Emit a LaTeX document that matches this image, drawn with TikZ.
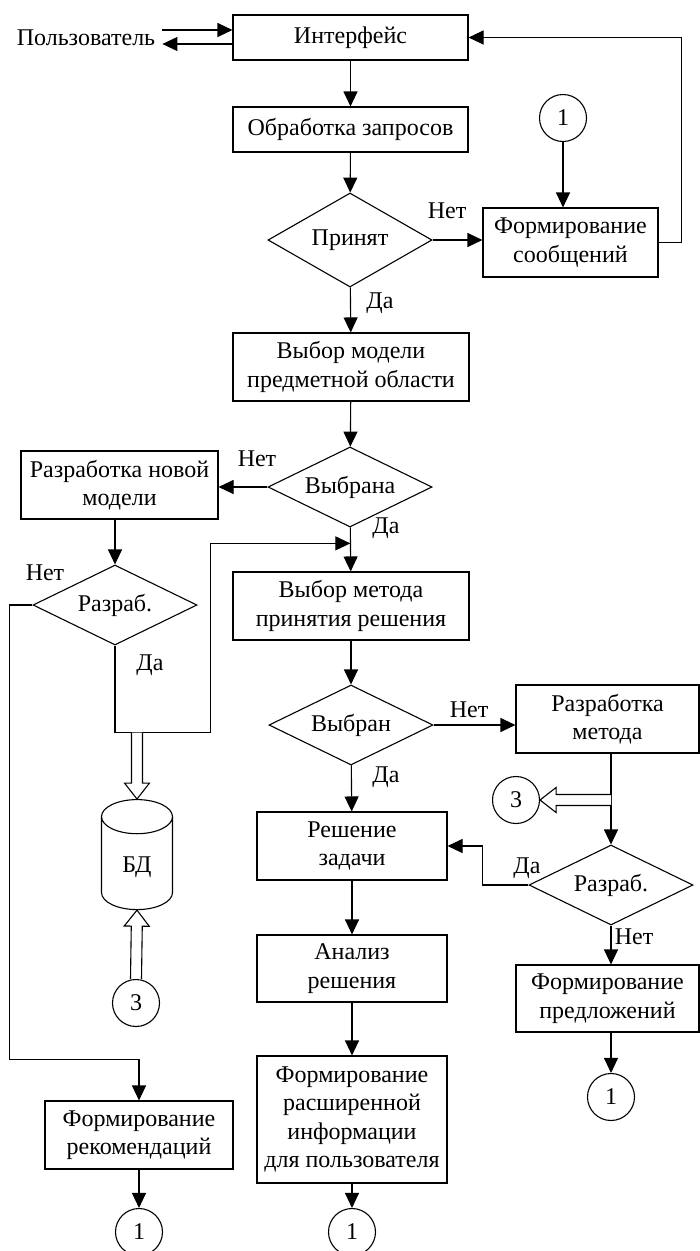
\documentclass[tikz,border=0pt]{standalone}
\usepackage{fontspec}
\setmainfont{Liberation Serif}
\usetikzlibrary{arrows.meta,positioning,calc,shapes.geometric,shapes.symbols}

% open (hollow) arrow from #1 to #2
\newcommand{\fatarrow}[2]{%
  \draw[fat] let \p1=(#1), \p2=(#2),
    \n1={atan2(\y2-\y1,\x2-\x1)}, \n2={veclen(\x2-\x1,\y2-\y1)} in
    [shift={(\p2)}, rotate=\n1]
    (-\n2,-5.5pt) -- (-16pt,-5.5pt) -- (-16pt,-12.5pt) -- (0pt,0pt)
    -- (-16pt,12.5pt) -- (-16pt,5.5pt) -- (-\n2,5.5pt);}

\begin{document}
\begin{tikzpicture}[x=1pt,y=-1pt,
  every node/.style={font=\fontsize{24}{28.5}\selectfont},
  block/.style={draw, line width=1.1pt, align=center, inner sep=2pt},
  decide/.style={draw, diamond, aspect=2, line width=1.1pt, inner sep=0pt, minimum width=164pt, minimum height=80pt},
  conn/.style={draw, circle, line width=1.1pt, minimum size=47pt, inner sep=0pt},
  arr/.style={line width=1.1pt, -{Triangle[length=15pt,width=14pt]}},
  fat/.style={line width=1.1pt, fill=white},
  lbl/.style={inner sep=0pt}]
  \useasboundingbox (0,0) rectangle (700,1251);

  % Interface and requests
  \node[lbl, inner xsep=7pt] (user) at (86,38) {Пользователь};
  \node[block, minimum width=235pt, minimum height=45pt] (iface) at (350.5,37.5) {Интерфейс};
  \node[block, minimum width=235pt, minimum height=45pt] (proc) at (350.5,129.5) {Обработка запросов};
  \node[decide, minimum height=94pt] (acc) at (350,240) {Принят};
  \node[block, minimum width=175pt, minimum height=69pt] (msg) at (570.5,242.5) {Формирование\\сообщений};
  \node[conn] (c1a) at (563,118) {1};

  % Domain model
  \node[block, minimum width=236pt, minimum height=68pt] (model) at (351,367) {Выбор модели\\предметной области};
  \node[decide] (msel) at (350,487) {Выбрана};
  \node[block, minimum width=197pt, minimum height=68pt] (newmod) at (119.5,485) {Разработка новой\\модели};
  \node[decide] (mdev) at (115,605) {Разраб.};
  \node[draw, line width=1.1pt, cylinder, shape border rotate=90, aspect=0.95, minimum width=71pt, minimum height=110pt] (db) at (137,867) {БД};
  \node[conn] (c3a) at (136,1003) {3};
  \node[block, minimum width=188pt, minimum height=68pt] (recom) at (139,1135) {Формирование\\рекомендаций};
  \node[conn] (c1b) at (139,1232) {1};

  % Decision method
  \node[block, minimum width=236pt, minimum height=68pt] (meth) at (351,606) {Выбор метода\\принятия решения};
  \node[decide] (methsel) at (351,725) {Выбран};
  \node[block, minimum width=183pt, minimum height=68pt] (methdev) at (607.5,719) {Разработка\\метода};
  \node[conn] (c3b) at (516,800) {3};
  \node[decide] (mdev2) at (611,885) {Разраб.};
  \node[block, minimum width=183pt, minimum height=67pt] (sugg) at (607.5,998.5) {Формирование\\предложений};
  \node[conn] (c1c) at (611,1097) {1};

  % Solution
  \node[block, minimum width=190pt, minimum height=68pt] (solve) at (352,846) {Решение\\задачи};
  \node[block, minimum width=190pt, minimum height=67pt] (anal) at (352,968.5) {Анализ\\решения};
  \node[block, minimum width=190pt, minimum height=127pt] (info) at (352,1119.5) {Формирование\\расширенной\\информации\\для пользователя};
  \node[conn] (c1d) at (352,1232) {1};

  % Yes / no labels
  \node[lbl] (no1) at (447,211) {Нет};
  \node[lbl] (yes1) at (380,303) {Да};
  \node[lbl] (no2) at (257,459) {Нет};
  \node[lbl] (yes2) at (386,528) {Да};
  \node[lbl] (no3) at (45,573) {Нет};
  \node[lbl] (yes3) at (150,665) {Да};
  \node[lbl] (no4) at (469,710) {Нет};
  \node[lbl] (yes4) at (386,777) {Да};
  \node[lbl] (yes5) at (527,868) {Да};
  \node[lbl] (no5) at (634,937) {Нет};

  % Connectors
  \coordinate (utop) at ($(iface.west)+(0,-7.5)$);
  \coordinate (ubot) at ($(iface.west)+(0,6.5)$);
  \draw[arr] (user.east |- utop) -- (utop);
  \draw[arr] (ubot) -- (user.east |- ubot);
  \draw[arr] (iface) -- (proc);
  \draw[arr] (proc) -- (acc);
  \draw[arr] (acc.east) -- (acc.east -| msg.west);
  \draw[arr] (c1a) -- (c1a |- msg.north);
  \draw[arr] (msg.east) -- ++(23,0) |- (iface.east);
  \draw[arr] (acc) -- (model);
  \draw[arr] (model) -- (msel);
  \draw[arr] (msel.west) -- (msel.west -| newmod.east);
  \draw[arr] (msel) -- (meth);
  \draw[arr] (newmod.south -| mdev) -- (mdev);
  \draw[arr] (mdev.west) -- ++(-23,0) |- ($(recom.north)+(0,-41)$) -- (recom);
  \coordinate (join) at ($(msel.south)!0.36!(meth.north)$);
  \draw[arr] (mdev.south) -- ++(0,87) coordinate (loopbot) -| ($(join)+(-140,0)$) -- (join);
  \fatarrow{db.north |- loopbot}{db.north}
  \fatarrow{c3a.north}{db.south}
  \draw[arr] (recom) -- (c1b);
  \draw[arr] (meth) -- (methsel);
  \draw[arr] (methsel.east) -- (methsel.east -| methdev.west);
  \draw[arr] (methsel) -- (solve);
  \draw[arr] (methdev.south -| mdev2) -- (mdev2);
  \fatarrow{c3b -| mdev2}{c3b.east}
  \draw[arr] (mdev2.west) -- ++(-46,0) |- (solve.east);
  \draw[arr] (mdev2.south) -- (mdev2.south |- sugg.north);
  \draw[arr] (sugg.south -| c1c) -- (c1c);
  \draw[arr] (solve) -- (anal);
  \draw[arr] (anal) -- (info);
  \draw[arr] (info) -- (c1d);
\end{tikzpicture}
\end{document}
